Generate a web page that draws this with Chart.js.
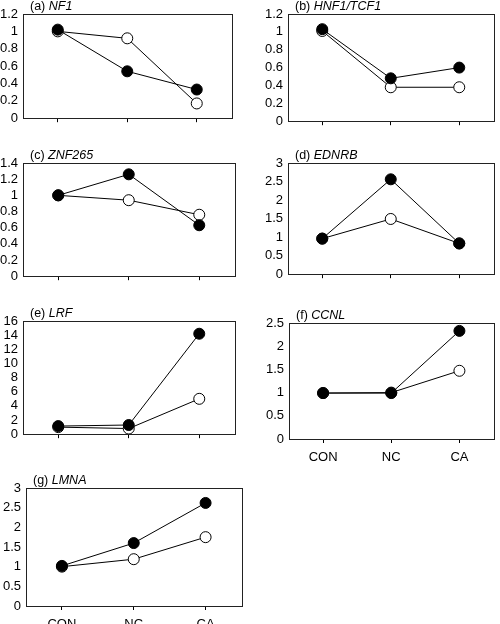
<!DOCTYPE html>
<html>
<head>
<meta charset="utf-8">
<script src="https://cdn.jsdelivr.net/npm/chart.js@4"></script>
<style>
  html, body { margin: 0; padding: 0; background: #fff; overflow: hidden; }
  body { position: relative; width: 500px; height: 624px; }
  canvas { position: absolute; }
</style>
</head>
<body>
<script>
const categories = ['CON', 'NC', 'CA'];
const panelLetters = ['(a)', '(b)', '(c)', '(d)', '(e)', '(f)', '(g)'];
const geneNames = ['NF1', 'HNF1/TCF1', 'ZNF265', 'EDNRB', 'LRF', 'CCNL', 'LMNA'];

// filled circles
const filledValues = [
    [1.02, 0.54, 0.33],
    [1.03, 0.48, 0.60],
    [1.00, 1.26, 0.63],
    [0.96, 2.56, 0.83],
    [1.15, 1.3, 14.2],
    [0.99, 0.99, 2.33],
    [1.02, 1.60, 2.62]
];
// open circles
const openValues = [
    [1.00, 0.92, 0.17],
    [1.01, 0.38, 0.38],
    [1.00, 0.94, 0.76],
    [0.96, 1.49, 0.83],
    [1.00, 0.8, 5.0],
    [0.99, 1.00, 1.47],
    [1.00, 1.19, 1.75]
];
const yMax = [1.2, 1.2, 1.4, 3, 16, 2.5, 3];
const yStep = [0.2, 0.2, 0.2, 0.5, 2, 0.5, 0.5];

// plot box of each panel on the page: left, right, top, bottom, show x labels
const boxes = [
    [23, 237, 14, 123, false],
    [288, 499, 14, 126, false],
    [23, 240, 163, 281, false],
    [288, 499, 163, 279, false],
    [23, 240, 321, 439, false],
    [289, 499, 323, 439, true],
    [26, 247, 488, 606, true]
];

Chart.defaults.font.family = "'Liberation Sans', Arial, sans-serif";
Chart.defaults.color = '#000';

const frame = {
    id: 'frame',
    afterDraw(chart, args, opts) {
        const c = chart.ctx, a = chart.chartArea;
        c.save();
        c.strokeStyle = '#222';
        c.lineWidth = 1;
        const l = Math.round(a.left) + 0.5, t = Math.round(a.top) + 0.5;
        c.strokeRect(l, t, Math.round(a.right) - Math.round(a.left), Math.round(a.bottom) - Math.round(a.top));
        // panel label
        c.fillStyle = '#000';
        c.textBaseline = 'alphabetic';
        c.font = "12.5px 'Liberation Sans', Arial, sans-serif";
        const x = a.left + 7, y = a.top - 4;
        const pre = opts.letter + ' ';
        c.fillText(pre, x, y);
        const w = c.measureText(pre).width;
        c.font = "italic 12.5px 'Liberation Sans', Arial, sans-serif";
        c.fillText(opts.gene, x + w, y);
        c.restore();
    }
};

boxes.forEach((b, i) => {
    const [L, R, T, B, showX] = b;
    const colLeft = L < 250 ? 0 : 250;
    const top = T - 22;
    const xh = showX ? 26 : 8;
    const cv = document.createElement('canvas');
    cv.width = R - colLeft + 1;
    cv.height = B - top + xh;
    cv.style.left = colLeft + 'px';
    cv.style.top = top + 'px';
    cv.style.width = cv.width + 'px';
    cv.style.height = cv.height + 'px';
    document.body.appendChild(cv);

    new Chart(cv, {
        type: 'line',
        data: {
            labels: categories,
            datasets: [
                {
                    data: filledValues[i],
                    borderColor: '#000',
                    borderWidth: 1,
                    backgroundColor: '#000',
                    pointBackgroundColor: '#000',
                    pointBorderColor: '#000',
                    pointRadius: 5.5,
                    tension: 0
                },
                {
                    data: openValues[i],
                    borderColor: '#000',
                    borderWidth: 1,
                    backgroundColor: '#fff',
                    pointBackgroundColor: '#fff',
                    pointBorderColor: '#000',
                    pointBorderWidth: 1,
                    pointRadius: 5.5,
                    tension: 0
                }
            ]
        },
        options: {
            responsive: false,
            animation: false,
            layout: {padding: {top: 22, right: 1, left: 0, bottom: 0}},
            plugins: {
                legend: {display: false},
                tooltip: {enabled: false},
                frame: {letter: panelLetters[i], gene: geneNames[i]}
            },
            scales: {
                x: {
                    offset: true,
                    grid: {display: true, drawOnChartArea: false, drawTicks: true, tickLength: 4, offset: false, color: '#000'},
                    border: {display: false},
                    ticks: {display: showX, padding: 7, font: {size: 13}, color: '#000'},
                    afterFit: s => { s.height = xh; }
                },
                y: {
                    min: 0,
                    max: yMax[i],
                    grid: {display: false, drawTicks: false, tickLength: 0},
                    border: {display: false},
                    ticks: {
                        stepSize: yStep[i],
                        autoSkip: false,
                        padding: 5,
                        font: {size: 13},
                        color: '#000',
                        callback: v => String(Math.round(v * 100) / 100)
                    },
                    afterFit: s => { s.width = L - colLeft; }
                }
            }
        },
        plugins: [frame]
    });
});
</script>
</body>
</html>
